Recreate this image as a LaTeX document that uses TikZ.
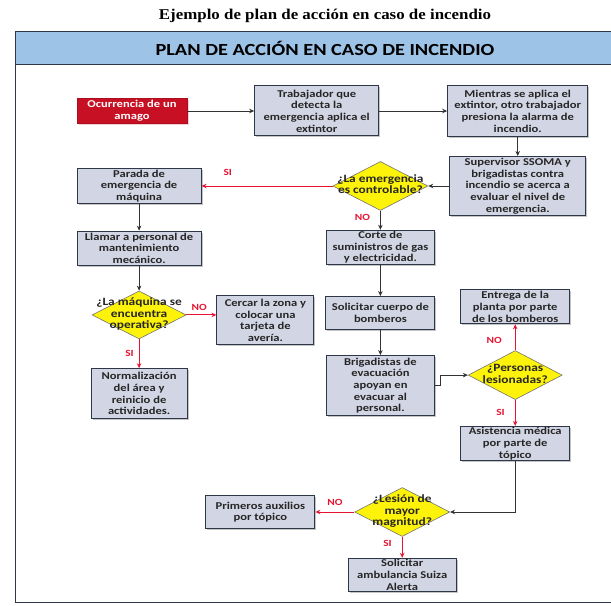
\documentclass[tikz,border=0pt]{standalone}
\usepackage{fontspec}
\setmainfont{Liberation Serif}
\newfontfamily\cajafont{Carlito}[FakeStretch=1.2]
\newfontfamily\titulofont{Liberation Serif}[FakeStretch=1.13]
\usetikzlibrary{shapes.geometric,arrows.meta,positioning,shadows}
\definecolor{azulCabecera}{RGB}{157,195,230}
\definecolor{grisCaja}{RGB}{210,214,228}
\definecolor{bordeCaja}{RGB}{45,55,72}
\definecolor{rojoAmago}{RGB}{200,16,36}
\definecolor{rojoFlecha}{RGB}{230,20,50}
\definecolor{amarilloDecision}{RGB}{252,242,10}
\newcommand{\dtexto}[1]{\smash{\raisebox{-2.7bp}{\makebox[0pt]{\begin{tabular}{@{}c@{}}#1\end{tabular}}}}}
\newcommand{\ctexto}[1]{\begin{tabular}{@{}c@{}}#1\end{tabular}}
\tikzset{
  caja/.style={rectangle, draw=bordeCaja, line width=1bp, fill=grisCaja,
               drop shadow={shadow xshift=1.5bp, shadow yshift=-1.5bp, fill=black!45},
               align=center, inner sep=1bp, text=black!85,
               font=\cajafont\bfseries\fontsize{10.5}{11.7}\selectfont},
  alarma/.style={rectangle, draw=rojoAmago!85!black, line width=0.4bp, fill=rojoAmago,
                 drop shadow={shadow xshift=1.5bp, shadow yshift=-1.5bp, fill=rojoAmago!40},
                 inner sep=1bp, text=white,
                 font=\cajafont\bfseries\fontsize{10.5}{11.7}\selectfont},
  decision/.style={diamond, draw=black!55, line width=0.6bp, fill=amarilloDecision,
                   inner sep=0pt, minimum width=95bp, minimum height=49bp, text=black!85,
                   font=\cajafont\bfseries\fontsize{11.2}{11.5}\selectfont},
  etiqueta/.style={inner sep=1bp, text=rojoFlecha,
                   font=\cajafont\bfseries\fontsize{9.5}{11}\selectfont},
  flecha/.style={-{Stealth[length=5bp,width=4.5bp]}, line width=0.9bp, draw=black!80},
  flecharoja/.style={-{Stealth[length=5bp,width=4.5bp]}, line width=0.9bp, draw=rojoFlecha},
}

\begin{document}
\begin{tikzpicture}[x=1bp, y=1bp]
  \useasboundingbox (0,0) rectangle (611,606);
  \node (titulo) at (325,590) {\titulofont\bfseries\fontsize{15}{18}\selectfont Ejemplo de plan de acción en caso de incendio};
  \draw[bordeCaja, line width=1bp] (15,574) -- (15,3) -- (615,3);
  \draw[bordeCaja, line width=1bp, fill=azulCabecera] (15,574) rectangle (615,541);
  \node (cabecera) at (325,557.5) {\cajafont\bfseries\fontsize{17}{20}\selectfont PLAN DE ACCIÓN EN CASO DE INCENDIO};

  \node[alarma, minimum width=110bp, minimum height=24bp] (amago) at (132,495)
       {\ctexto{Ocurrencia de un\\amago}};
  \node[caja, minimum width=124bp, minimum height=50bp, right=67bp of amago] (trab)
       {Trabajador que\\detecta la\\emergencia aplica el\\extintor};
  \node[caja, minimum width=140bp, minimum height=51bp, right=68bp of trab] (mient)
       {Mientras se aplica el\\extintor, otro trabajador\\presiona la alarma de\\incendio.};
  \node[caja, minimum width=136bp, minimum height=59bp, below=19bp of mient] (sup)
       {Supervisor SSOMA y\\brigadistas contra\\incendio se acerca a\\evaluar el nivel de\\emergencia.};
  \node[decision, left=21bp of sup] (dec1) {\dtexto{¿La emergencia\\es controlable?}};
  \node[caja, minimum width=124bp, minimum height=34bp, left=131bp of dec1] (parada)
       {Parada de\\emergencia de\\máquina};
  \node[caja, minimum width=124bp, minimum height=34bp, below=27bp of parada] (llamar)
       {Llamar a personal de\\mantenimiento\\mecánico.};
  \node[decision, minimum width=94bp, minimum height=48bp, below=25bp of llamar] (dec2)
       {\dtexto{¿La máquina se\\encuentra\\operativa?}};
  \node[caja, minimum width=97bp, minimum height=49bp, right=30bp of dec2, yshift=-5.5bp] (cercar)
       {Cercar la zona y\\colocar una\\tarjeta de\\avería.};
  \node[caja, minimum width=96bp, minimum height=50bp, below=29bp of dec2] (normal)
       {Normalización\\del área y\\reinicio de\\actividades.};
  \node[caja, minimum width=108bp, minimum height=33bp, below=19bp of dec1] (corte)
       {Corte de\\suministros de gas\\y electricidad.};
  \node[caja, minimum width=109bp, minimum height=33bp, below=31bp of corte] (solic)
       {Solicitar cuerpo de\\bomberos};
  \node[caja, minimum width=108bp, minimum height=60bp, below=25bp of solic] (brig)
       {Brigadistas de\\evacuación\\apoyan en\\evacuar al\\personal.};
  \node[decision, minimum width=94bp, right=33bp of brig, yshift=10.5bp] (dec3)
       {\dtexto{¿Personas\\lesionadas?}};
  \node[caja, minimum width=109bp, minimum height=34bp, above=26bp of dec3] (entrega)
       {Entrega de la\\planta por parte\\de los bomberos};
  \node[caja, minimum width=109bp, minimum height=34bp, below=26bp of dec3] (asist)
       {Asistencia médica\\por parte de\\tópico};
  \node[decision, below=26bp of asist, xshift=-113bp] (dec4)
       {\dtexto{¿Lesión de\\mayor\\magnitud?}};
  \node[caja, minimum width=109bp, minimum height=33bp, left=39bp of dec4] (prim)
       {Primeros auxilios\\por tópico};
  \node[caja, minimum width=108bp, minimum height=33bp, below=21bp of dec4] (amb)
       {Solicitar\\ambulancia Suiza\\Alerta};

  \draw[flecha] (amago) -- (trab); \draw[flecha] (trab) -- (mient);
  \draw[flecha] (mient) -- (sup); \draw[flecha] (sup) -- (dec1);
  \draw[flecharoja] (dec1) -- node[etiqueta, pos=0.8, above=9bp] {SI} (parada);
  \draw[flecha] (dec1) -- node[etiqueta, pos=0.35, left=9bp] {NO} (corte);
  \draw[flecha] (parada) -- (llamar); \draw[flecha] (llamar) -- (dec2);
  \draw[flecharoja] (dec2.east) -- node[etiqueta, pos=0.43, above=3bp] {NO} (dec2.east -| cercar.west);
  \draw[flecharoja] (dec2) -- node[etiqueta, pos=0.5, left=4bp] {SI} (normal);
  \draw[flecha] (corte) -- (solic); \draw[flecha] (solic) -- (brig);
  \draw[flecha] (brig.east) -- ++(6bp,0) |- (dec3.west);
  \draw[flecharoja] (dec3) -- node[etiqueta, pos=0.38, left=12bp] {NO} (entrega);
  \draw[flecharoja] (dec3) -- node[etiqueta, pos=0.5, left=9bp] {SI} (asist);
  \draw[flecha] (asist) |- (dec4);
  \draw[flecharoja] (dec4) -- node[etiqueta, pos=0.5, above=5bp] {NO} (prim);
  \draw[flecharoja] (dec4) -- node[etiqueta, pos=0.3, left=9bp] {SI} (amb);
\end{tikzpicture}
\end{document}
